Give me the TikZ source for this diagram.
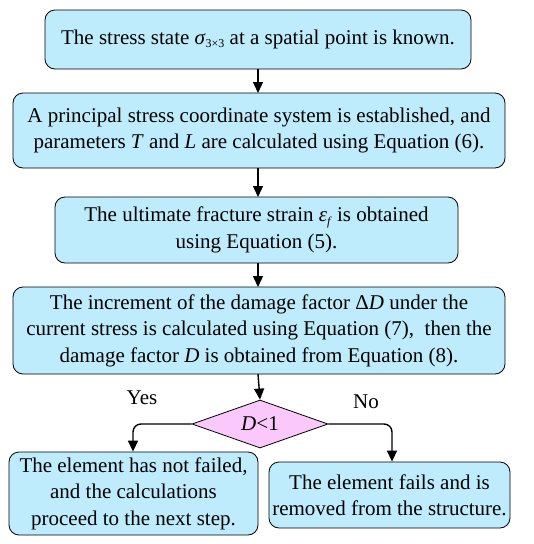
\documentclass[tikz,border=0pt]{standalone}
\usepackage{fontspec}
\setmainfont{Liberation Serif}
\usetikzlibrary{shapes.geometric,arrows.meta}
\definecolor{boxblue}{RGB}{190,236,252}
\definecolor{diapink}{RGB}{250,200,250}
\newcommand{\subsz}[1]{\raisebox{-0.35ex}{\fontsize{12}{12}\selectfont #1}}
\begin{document}
\begin{tikzpicture}[x=1pt,y=-1pt,
  every node/.style={font=\fontsize{21}{26.5}\selectfont},
  procbox/.style={draw=black, line width=0.8pt, fill=boxblue, rounded corners=10pt, align=center, inner sep=0pt},
  decbox/.style={draw=black, line width=0.8pt, fill=diapink, diamond, aspect=2.83, inner sep=0pt},
  conn/.style={line width=1.4pt, -{Triangle[length=11pt,width=10pt]}, rounded corners=8pt},
  lbl/.style={inner sep=0pt}]
\useasboundingbox (0,0) rectangle (534,544);
\node[procbox, minimum width=426pt, minimum height=59pt] (b1) at (258,39.5)
  {The stress state \textit{σ}\subsz{3×3} at a spatial point is known.};
\node[procbox, minimum width=492pt, minimum height=75pt] (b2) at (259,130.5)
  {A principal stress coordinate system is established, and\\parameters \textit{T} and \textit{L} are calculated using Equation (6).};
\node[procbox, minimum width=403pt, minimum height=66pt] (b3) at (256.5,230)
  {The ultimate fracture strain \textit{ε}\subsz{\textit{f}} is obtained\\using Equation (5).};
\node[procbox, minimum width=492pt, minimum height=87pt] (b4) at (259,330.5)
  {The increment of the damage factor Δ\textit{D} under the\\current stress is calculated using Equation (7), \ then the\\damage factor \textit{D} is obtained from Equation (8).};
\node[decbox, minimum width=136pt, minimum height=48pt] (d) at (260,424) {\textit{D}<1};
\node[procbox, minimum width=249pt, minimum height=83pt] (b5) at (133.5,493.5)
  {The element has not failed,\\and the calculations\\proceed to the next step.};
\node[procbox, minimum width=241pt, minimum height=66pt] (b6) at (389.5,495)
  {The element fails and is\\removed from the structure.};
\node[lbl] (yes) at (142,398) {Yes};
\node[lbl] (no) at (366,402) {No};
\draw[conn] (b1.south -| 258,0) -- (258,93);
\draw[conn] (258,168) -- (258,197);
\draw[conn] (258,263) -- (258,287);
\draw[conn] (258,374) -- (d.north);
\draw[conn] (d.west) -| (b5.north -| 133,0);
\draw[conn] (d.east) -| (b6.north -| 392,0);
\end{tikzpicture}
\end{document}
